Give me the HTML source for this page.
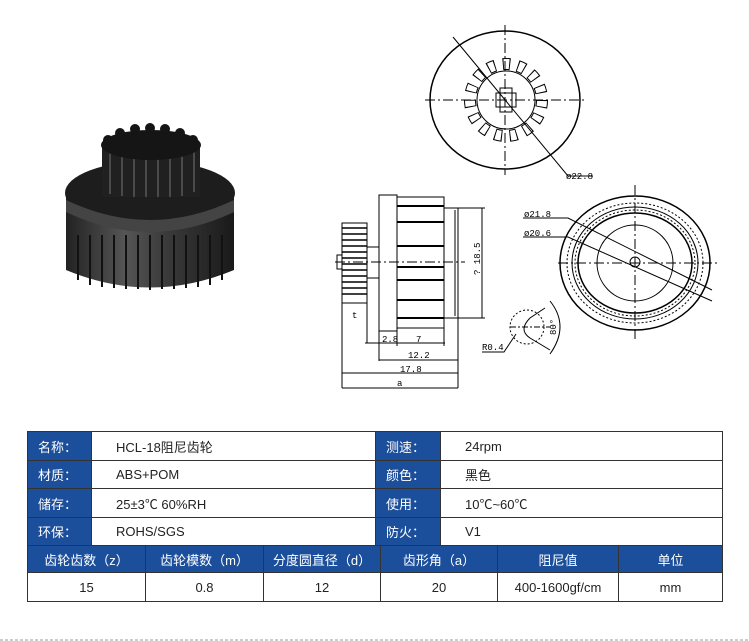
<!DOCTYPE html>
<html><head><meta charset="utf-8"><style>
body{margin:0;background:#fff;width:749px;height:641px;overflow:hidden;position:relative;font-family:"Liberation Sans","Noto Sans CJK SC",sans-serif}
table{position:absolute;left:27px;border-collapse:collapse;font-size:13px;color:#222;table-layout:fixed}
td{border:1px solid #333;padding:0;white-space:nowrap}
.l{background:#1b4e9b;color:#fff;padding-left:10px}
.v{padding-left:24px}
.h td{background:#1b4e9b;color:#fff;text-align:center}
.n td{text-align:center}
</style></head><body>
<svg width="749" height="641" style="position:absolute;left:0;top:0" font-family="Liberation Mono,monospace" font-size="9">
<defs>
<linearGradient id="b" x1="0" x2="1"><stop offset="0" stop-color="#222"/><stop offset=".35" stop-color="#555"/><stop offset=".6" stop-color="#3a3a3a"/><stop offset="1" stop-color="#1a1a1a"/></linearGradient>
</defs>
<path d="M66 195 L66 270 Q150 305 234 270 L234 195 Z" fill="url(#b)"/>
<g stroke="#111" stroke-width="2"><path d="M78 235v45M90 235v50M102 235v52M114 235v53M126 235v54M138 235v54M150 235v55M162 235v54M174 235v54M186 235v53M198 235v52M210 235v50M222 235v45"/></g>
<ellipse cx="150" cy="193" rx="85" ry="32" fill="#1d1d1d"/>
<path d="M66 200 Q150 240 234 200 L234 212 Q150 252 66 212Z" fill="#444"/>
<rect x="102" y="145" width="98" height="52" fill="#202020"/>
<g stroke="#4a4a4a" stroke-width="2"><path d="M110 152v42M122 152v44M134 152v45M146 152v45M158 152v45M170 152v45M182 152v44M194 152v40"/></g>
<ellipse cx="151" cy="145" rx="50" ry="15" fill="#151515"/>
<g fill="#151515"><circle cx="108" cy="140" r="5"/><circle cx="120" cy="133" r="5"/><circle cx="135" cy="129" r="5"/><circle cx="150" cy="128" r="5"/><circle cx="165" cy="129" r="5"/><circle cx="180" cy="133" r="5"/><circle cx="193" cy="140" r="5"/></g>
<g fill="none" stroke="#000" stroke-width="1">
<ellipse cx="505" cy="100" rx="75" ry="69" stroke-width="1.5"/>
<circle cx="506" cy="100" r="36" stroke-width="12" stroke-dasharray="7.5 7.6"/>
<circle cx="506" cy="100" r="36" stroke="#fff" stroke-width="10" stroke-dasharray="5.5 9.6" stroke-dashoffset="-1"/>
<circle cx="506" cy="100" r="29"/>
<rect x="496" y="93" width="20" height="14"/><rect x="500" y="88" width="12" height="24"/>
<path d="M453 37 L568 176 L593 176" />
<path d="M505 25v150M425 100h160" stroke-dasharray="10 3 2 3"/>
<rect x="342" y="223" width="25" height="80"/>
<g stroke-width="1.5"><path d="M342 228h25M342 234h25M342 240h25M342 246h25M342 252h25M342 258h25M342 264h25M342 270h25M342 276h25M342 282h25M342 288h25M342 294h25"/></g>
<rect x="337" y="255" width="5" height="14"/>
<path d="M367 247h12M367 278h12"/>
<rect x="379" y="195" width="18" height="136"/>
<rect x="397" y="197" width="47" height="131"/>
<g stroke-width="2"><path d="M397 206h47M397 222h47M397 246h47M397 267h47M397 280h47M397 300h47M397 318h47"/></g>
<rect x="444" y="208" width="14" height="110"/><path d="M455 210v106"/>
<path d="M335 262h130" stroke-dasharray="10 3 2 3"/>
<path d="M458 208h27M458 318h27M482 208v110"/>
<path d="M342 303v85M367 303v40M379 331v30M397 331v15M444 328v18M458 318v70M365 343h80M379 360h79M342 373h116M342 388h116"/>
<ellipse cx="635" cy="263" rx="75" ry="67" stroke-width="1.5"/>
<ellipse cx="635" cy="263" rx="68" ry="60" stroke-dasharray="2 2"/>
<ellipse cx="635" cy="263" rx="63" ry="56"/>
<ellipse cx="635" cy="263" rx="60" ry="53" stroke-dasharray="2 2"/>
<ellipse cx="635" cy="263" rx="57" ry="50" stroke-width="1.5"/>
<circle cx="635" cy="263" r="38"/>
<circle cx="635" cy="262" r="5"/>
<path d="M635 185v155M558 263h160" stroke-dasharray="10 3 2 3"/>
<path d="M523 218h45L712 290M523 237h45L712 301"/>
<circle cx="527" cy="327" r="17" stroke-dasharray="2 2"/>
<path d="M545 308L530 318Q518 330 530 338L550 350"/>
<path d="M550 301Q570 326 550 354"/>
<path d="M510 327h40" stroke-dasharray="6 2 2 2"/>
<path d="M482 352h22l12-18"/>
</g>
<g fill="#000">
<text x="566" y="179">ø22.8</text>
<text x="524" y="217">ø21.8</text>
<text x="524" y="236">ø20.6</text>
<text x="482" y="350">R0.4</text>
<text x="352" y="318">t</text>
<text x="382" y="342">2.8</text>
<text x="416" y="342">7</text>
<text x="408" y="358">12.2</text>
<text x="400" y="372">17.8</text>
<text x="397" y="386">a</text>
<text transform="translate(480 275) rotate(-90)">? 18.5</text>
<text transform="translate(556 335) rotate(-90)">80°</text>
</g>
<path d="M0 640H749" stroke="#999" stroke-dasharray="3 2"/>
</svg>
<table style="top:431px;width:695px">
<colgroup><col style="width:64px"><col style="width:284px"><col style="width:65px"><col style="width:282px"></colgroup>
<tr style="height:29px"><td class="l">名称：</td><td class="v">HCL-18阻尼齿轮</td><td class="l">测速：</td><td class="v">24rpm</td></tr>
<tr style="height:28px"><td class="l">材质：</td><td class="v">ABS+POM</td><td class="l">颜色：</td><td class="v">黑色</td></tr>
<tr style="height:29px"><td class="l">储存：</td><td class="v">25±3℃ 60%RH</td><td class="l">使用：</td><td class="v">10℃~60℃</td></tr>
<tr style="height:28px"><td class="l">环保：</td><td class="v">ROHS/SGS</td><td class="l">防火：</td><td class="v">V1</td></tr>
</table>
<table style="top:545px;width:695px">
<colgroup><col style="width:118px"><col style="width:118px"><col style="width:117px"><col style="width:117px"><col style="width:121px"><col style="width:104px"></colgroup>
<tr class="h" style="height:27px"><td>齿轮齿数（z）</td><td>齿轮模数（m）</td><td>分度圆直径（d）</td><td>齿形角（a）</td><td>阻尼值</td><td>单位</td></tr>
<tr class="n" style="height:29px"><td>15</td><td>0.8</td><td>12</td><td>20</td><td>400-1600gf/cm</td><td>mm</td></tr>
</table>
</body></html>
